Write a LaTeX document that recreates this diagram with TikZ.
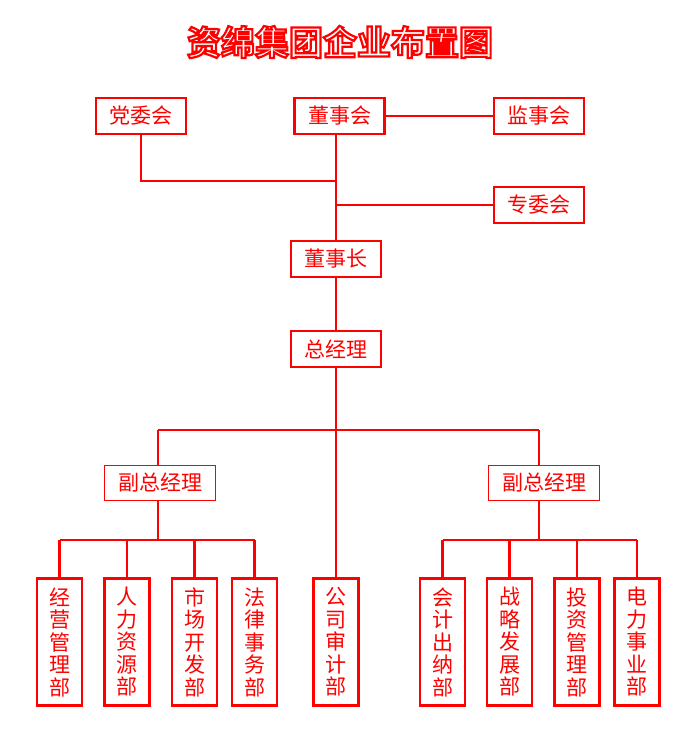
\documentclass[tikz,border=0pt]{standalone}
\usepackage{fontspec}
\setmainfont{Noto Sans CJK SC}
\newfontfamily\titlefont{Noto Sans CJK SC Bold}
\begin{document}
\begin{tikzpicture}[x=1pt,y=-1pt,
  box/.style={draw=red,line width=2.2pt,fill=white,text=red,minimum width=90pt,minimum height=36pt,font=\fontsize{21}{21}\selectfont,inner sep=0pt},
  vpbox/.style={draw=red,line width=0.9pt,fill=white,text=red,minimum width=111pt,minimum height=35pt,font=\fontsize{21}{21}\selectfont,inner sep=0pt},
  dept/.style={draw=red,line width=2.2pt,fill=white,text=red,minimum width=45pt,minimum height=127pt,font=\fontsize{21}{22.5}\selectfont,inner sep=0pt,align=center},
  ln/.style={draw=red,line width=2.2pt}]
\useasboundingbox (0,0) rectangle (689,742);
\node[text=white,font=\titlefont\fontsize{34}{34}\selectfont] (title) at (340,42) {\special{pdf:literal direct 2 Tr 2.2 w 1 0 0 RG 1 1 1 rg}资绵集团企业布置图\special{pdf:literal direct 0 Tr}};
\coordinate (j1) at (336,181);
\coordinate (j2) at (336,205);
\coordinate (hl) at (158,430);
\coordinate (hr) at (539,430);
\coordinate (ll) at (59.5,540);
\coordinate (lr) at (254.5,540);
\coordinate (lm) at (158,540);
\coordinate (rl) at (442.5,540);
\coordinate (rr) at (637,540);
\coordinate (rm) at (539,540);
\draw[ln] (141,116) |- (j1);
\draw[ln] (339.5,116) -- (539,116);
\draw[ln] (336,116) -- (336,640);
\draw[ln] (j2) -- (539,205);
\draw[ln] (hl) -- (hr);
\draw[ln] (hl) -- (158,483);
\draw[ln] (hr) -- (539,483);
\draw[ln] (lm) -- (158,483);
\draw[ln] (rm) -- (539,483);
\draw[ln] (ll) -- (lr);
\draw[ln] (rl) -- (rr);
\foreach \x in {59.5,127,194.5,254.5}{\draw[ln] (\x,540) -- (\x,600);}
\foreach \x in {442.5,509.5,577,637}{\draw[ln] (\x,540) -- (\x,600);}
\node[box] (dwh) at (141,116) {党委会};
\node[box] (dsh) at (339.5,116) {董事会};
\node[box] (jsh) at (539,116) {监事会};
\node[box] (zwh) at (539,205) {专委会};
\node[box] (dsz) at (336,259) {董事长};
\node[box] (zjl) at (336,349) {总经理};
\node[vpbox] (fl) at (160,483) {副总经理};
\node[vpbox] (fr) at (544,483) {副总经理};
\node[dept] (d1) at (59.5,642) {经\\营\\管\\理\\部};
\node[dept] (d2) at (127,642) {人\\力\\资\\源\\部};
\node[dept] (d3) at (194.5,642) {市\\场\\开\\发\\部};
\node[dept] (d4) at (254.5,642) {法\\律\\事\\务\\部};
\node[dept] (d5) at (336,642) {公\\司\\审\\计\\部};
\node[dept] (d6) at (442.5,642) {会\\计\\出\\纳\\部};
\node[dept] (d7) at (509.5,642) {战\\略\\发\\展\\部};
\node[dept] (d8) at (577,642) {投\\资\\管\\理\\部};
\node[dept] (d9) at (637,642) {电\\力\\事\\业\\部};
\end{tikzpicture}
\end{document}
